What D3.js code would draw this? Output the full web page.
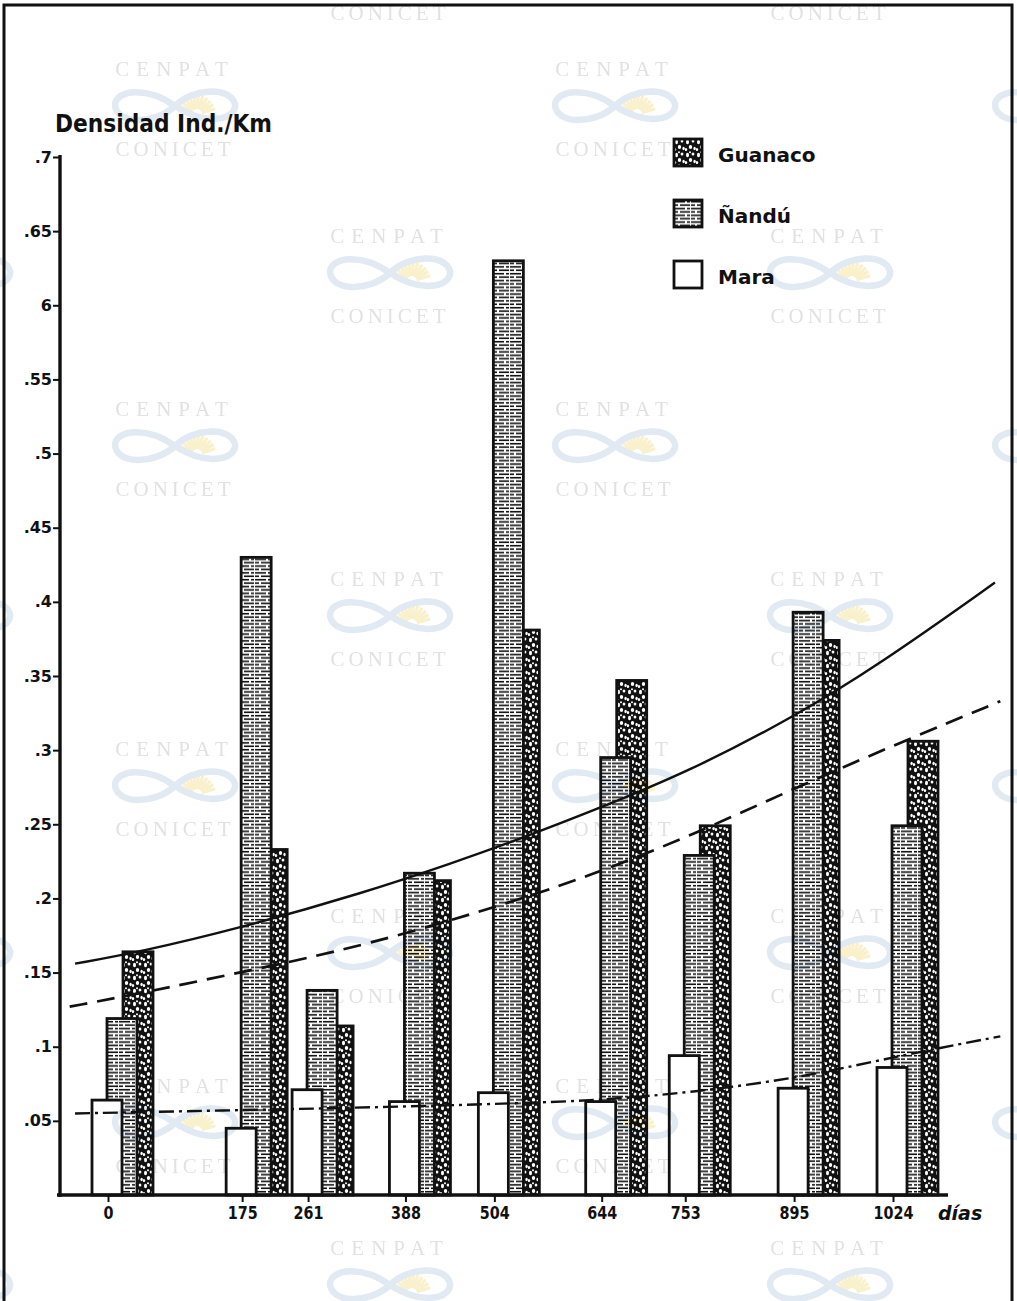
<!DOCTYPE html>
<html>
<head>
<meta charset="utf-8">
<script src="https://cdn.jsdelivr.net/npm/d3@7"></script>
<style>
  html, body { margin: 0; background: #fff; }
  svg { display: block; }
</style>
</head>
<body>
<svg id="chart" width="1017" height="1301"></svg>
<script>
// Sampling dates (days since first census) and density per species (ind./km)
const days      = [0, 175, 261, 388, 504, 644, 753, 895, 1024];
const dayLabels = ["0", "175", "261", "388", "504", "644", "753", "895", "1024"];
const guanaco   = [0.164, 0.233, 0.114, 0.212, 0.381, 0.347, 0.249, 0.374, 0.306];
const nandu     = [0.119, 0.430, 0.138, 0.217, 0.630, 0.295, 0.229, 0.393, 0.249];
const mara      = [0.064, 0.045, 0.071, 0.063, 0.069, 0.063, 0.094, 0.072, 0.086];

const yTicks      = [0.05, 0.1, 0.15, 0.2, 0.25, 0.3, 0.35, 0.4, 0.45, 0.5, 0.55, 0.6, 0.65, 0.7];
const yTickLabels = [".05", ".1", ".15", ".2", ".25", ".3", ".35", ".4", ".45", ".5", ".55", "6", ".65", ".7"];

// Fitted trend curves, sampled as [day, density]
const trendSolid = [[-43,.156],[42,.164],[172,.180],[335,.204],[450,.224],[537,.240],[642,.261],
                    [759,.286],[890,.321],[1007,.358],[1157,.413]];
const trendDashed = [[-50,.127],[42,.136],[172,.150],[335,.168],[537,.199],[642,.218],
                     [759,.242],[903,.276],[1033,.305],[1164,.333]];
const trendDashDot = [[-43,.055],[150,.057],[342,.059],[546,.062],[642,.064],[759,.069],
                      [903,.079],[1033,.094],[1164,.107]];

const legendItems = [
  { name: "Guanaco", fill: "url(#pGuanaco)" },
  { name: "Ñandú",   fill: "url(#pNandu)" },
  { name: "Mara",    fill: "#fff" }
];

const svg = d3.select("#chart");
const INK = "#111";
const FONT = "'DejaVu Sans', 'Liberation Sans', sans-serif";

// ---------- fill patterns ----------
const defs = svg.append("defs");
const pN = defs.append("pattern").attr("id", "pNandu")
  .attr("patternUnits", "userSpaceOnUse").attr("width", 17).attr("height", 6.8);
pN.append("rect").attr("width", 17).attr("height", 6.8).attr("fill", "#fff");
pN.append("rect").attr("x", 0).attr("y", 0.9).attr("width", 11).attr("height", 1.6).attr("fill", INK);
pN.append("rect").attr("x", 13).attr("y", 0.9).attr("width", 3).attr("height", 1.6).attr("fill", INK);
pN.append("rect").attr("x", 0).attr("y", 4.3).attr("width", 4).attr("height", 1.6).attr("fill", INK);
pN.append("rect").attr("x", 6).attr("y", 4.3).attr("width", 10).attr("height", 1.6).attr("fill", INK);

const pG = defs.append("pattern").attr("id", "pGuanaco")
  .attr("patternUnits", "userSpaceOnUse").attr("width", 11).attr("height", 13);
pG.append("rect").attr("width", 11).attr("height", 13).attr("fill", INK);
[[2.5,3,1.5,2.2],[8,2,1.4,1.6],[5.5,8,1.7,2.1],[9.6,9.5,1.2,1.8],[1,10.5,1.2,1.5],[5,0.2,1,1],[5,13.2,1,1]]
  .forEach(([cx, cy, rx, ry]) => pG.append("ellipse")
    .attr("cx", cx).attr("cy", cy).attr("rx", rx).attr("ry", ry).attr("fill", "#fff"));

// ---------- scales ----------
const x = d3.scaleLinear().domain([0, 1024]).range([108, 893]);
const y = d3.scaleLinear().domain([0, 0.7]).range([1195, 157]);

// bar placement relative to each sampling date (pixels)
const barW = 30;
const series = [
  { key: "guanaco", values: guanaco, fill: "url(#pGuanaco)", dx: 15 },
  { key: "nandu",   values: nandu,   fill: "url(#pNandu)",   dx: -1 },
  { key: "mara",    values: mara,    fill: "#fff",           dx: -16 }
];

const plot = svg.append("g");
series.forEach(s => {
  plot.append("g").attr("class", "bars-" + s.key)
    .selectAll("rect").data(days.map((d, i) => ({ day: d, v: s.values[i] })))
    .join("rect")
      .attr("x", d => x(d.day) + s.dx)
      .attr("y", d => y(d.v))
      .attr("width", barW)
      .attr("height", d => y(0) - y(d.v))
      .attr("fill", s.fill)
      .attr("stroke", INK)
      .attr("stroke-width", 2.8);
});

// ---------- trend curves ----------
const line = d3.line().x(d => x(d[0])).y(d => y(d[1])).curve(d3.curveBasis);
plot.append("path").datum(trendSolid).attr("d", line)
  .attr("fill", "none").attr("stroke", INK).attr("stroke-width", 2.4);
plot.append("path").datum(trendDashed).attr("d", line)
  .attr("fill", "none").attr("stroke", INK).attr("stroke-width", 2.7)
  .attr("stroke-dasharray", "18 10");
plot.append("path").datum(trendDashDot).attr("d", line)
  .attr("fill", "none").attr("stroke", INK).attr("stroke-width", 2.4)
  .attr("stroke-dasharray", "15 5 3 5");

// ---------- axes ----------
const yAxis = d3.axisLeft(y).tickValues(yTicks)
  .tickFormat((d, i) => yTickLabels[i]).tickSize(7).tickPadding(1);
const gy = svg.append("g").attr("transform", "translate(60,0)").call(yAxis);
gy.select(".domain").attr("d", `M0,${y(0.7) - 2}V${y(0) + 2}`)
  .attr("stroke", INK).attr("stroke-width", 3.4);
gy.selectAll(".tick line").attr("stroke", INK).attr("stroke-width", 2);
gy.selectAll(".tick text").attr("font-family", FONT).attr("font-weight", "bold")
  .attr("font-size", 16).attr("fill", INK);

const xAxis = d3.axisBottom(x).tickValues(days)
  .tickFormat((d, i) => dayLabels[i]).tickSize(7).tickPadding(5);
const gx = svg.append("g").attr("transform", `translate(0,${y(0)})`).call(xAxis);
gx.select(".domain").attr("d", "M57,0H948").attr("stroke", INK).attr("stroke-width", 3.4);
gx.selectAll(".tick line").attr("stroke", INK).attr("stroke-width", 2);
gx.selectAll(".tick text").attr("font-family", FONT).attr("font-weight", "bold")
  .attr("font-size", 17).attr("fill", INK)
  .attr("textLength", (d, i) => dayLabels[i].length * 10)
  .attr("lengthAdjust", "spacingAndGlyphs");

svg.append("text").attr("x", 938).attr("y", 1220)
  .attr("font-family", FONT).attr("font-size", 19).attr("font-style", "italic")
  .attr("font-weight", "bold").attr("fill", INK).text("días");

svg.append("text").attr("x", 55).attr("y", 132)
  .attr("font-family", FONT).attr("font-size", 25).attr("font-weight", "bold").attr("fill", INK)
  .attr("textLength", 217).attr("lengthAdjust", "spacingAndGlyphs")
  .text("Densidad Ind./Km");

// ---------- legend ----------
const legend = svg.append("g").attr("transform", "translate(674,139)");
const li = legend.selectAll("g").data(legendItems).join("g")
  .attr("transform", (d, i) => `translate(0,${i * 61})`);
li.append("rect").attr("width", 28).attr("height", 27)
  .attr("fill", d => d.fill).attr("stroke", INK).attr("stroke-width", 2.8);
li.append("text").attr("x", 44).attr("y", 23)
  .attr("font-family", FONT).attr("font-size", 20).attr("font-weight", "bold").attr("fill", INK)
  .text(d => d.name);

// ---------- page frame ----------
svg.append("path").attr("d", "M4,1301V5H1012V1301")
  .attr("fill", "none").attr("stroke", INK).attr("stroke-width", 3);

// ---------- archive watermark tiles ----------
const wm = svg.append("g").style("mix-blend-mode", "multiply").attr("pointer-events", "none");
const rowY = [-68, 68, 235, 408, 578, 748, 915, 1085, 1247];
const WM_FONT = "'Liberation Serif', 'DejaVu Serif', serif";
rowY.forEach((ry, r) => {
  const base = (r % 2 === 0) ? 390 - 440 : 175;
  for (let cx = base; cx < 1120; cx += 440) {
    const g = wm.append("g").attr("transform", `translate(${cx},${ry})`);
    const inside = cx > 70 && cx < 950;
    if (inside && ry > 0) {
      g.append("text").attr("text-anchor", "middle").attr("y", 8)
        .attr("font-family", WM_FONT).attr("font-size", 21)
        .attr("letter-spacing", 7).attr("fill", "#e2e2e2").text("CENPAT");
    }
    // sun
    const sun = g.append("g").attr("transform", "translate(22,46)");
    d3.range(-80, 81, 14).forEach(a => {
      const t = (a - 90) * Math.PI / 180;
      sun.append("line").attr("x1", 5 * Math.cos(t)).attr("y1", 5 * Math.sin(t))
        .attr("x2", 19 * Math.cos(t)).attr("y2", 19 * Math.sin(t))
        .attr("stroke", "#f9f0cc").attr("stroke-width", 3.2);
    });
    // interlaced loops
    g.append("path")
      .attr("d", "M0,38 C18,20 55,18 60,36 C62,50 35,60 0,38 C-28,18 -58,22 -60,36 C-60,56 -22,58 0,38")
      .attr("fill", "none").attr("stroke", "#e1e9f3").attr("stroke-width", 6.5);
    if (inside && ry + 88 < 1290) {
      g.append("text").attr("text-anchor", "middle").attr("y", 88)
        .attr("font-family", WM_FONT).attr("font-size", 21)
        .attr("letter-spacing", 4).attr("fill", "#e2e2e2").text("CONICET");
    }
  }
});
</script>
</body>
</html>
